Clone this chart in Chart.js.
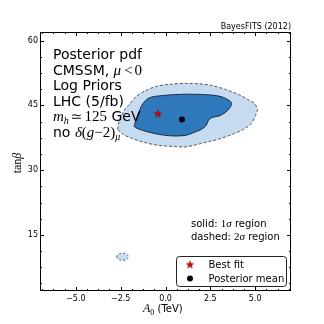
<!DOCTYPE html>
<html><head><meta charset="utf-8">
<script src="https://cdn.jsdelivr.net/npm/chart.js@4"></script>
<style>html,body{margin:0;padding:0;background:#fff}canvas{display:block}</style>
</head><body>
<canvas id="c" width="324" height="324"></canvas>
<script>
// ---- data ----
const outerX = [-2.67,-2.59,-2.31,-1.97,-1.69,-1.19,-0.52,0.21,1.10,1.88,2.55,3.34,4.12,4.68,4.96,5.13,5.02,4.79,4.34,3.84,3.11,2.44,1.77,1.10,0.49,-0.35,-1.19,-1.86,-2.36,-2.67];
const outerY = [39.43,41.29,43.84,45.46,46.86,48.25,49.41,49.87,50.10,49.99,49.64,48.71,47.44,46.16,45.46,44.07,42.68,40.82,39.43,38.50,37.34,36.65,35.95,35.37,35.49,35.72,36.42,37.34,38.27,39.43];
const innerX = [-1.75,-1.64,-1.47,-1.25,-0.91,-0.35,0.77,1.88,2.72,3.22,3.67,3.61,3.34,3.00,2.61,2.39,2.27,1.99,1.60,1.10,0.43,-0.35,-1.08,-1.58,-1.75];
const innerY = [40.13,41.75,43.61,45.46,46.74,47.20,47.55,47.55,47.32,46.86,45.70,44.54,43.38,42.56,42.22,41.52,40.36,39.43,38.74,38.04,37.92,38.27,38.97,39.66,40.13];
const blobX = [-2.73,-2.63,-2.42,-2.18,-2.07,-2.17,-2.40,-2.62,-2.73];
const blobY = [9.90,10.50,10.75,10.55,9.90,9.30,9.10,9.30,9.90];
const bestFit = [-0.42, 43.1];
const postMean = [0.92, 41.75];
const xTicks = [-5, -2.5, 0, 2.5, 5];
const xTickLabels = ['\u22125.0', '\u22122.5', '0.0', '2.5', '5.0'];
const yTicks = [15, 30, 45, 60];
const yTickLabels = ['15', '30', '45', '60'];
const xRange = [-7, 7];
const yRange = [2, 62];

const zip = (xs, ys) => xs.map((x, i) => ({x: x, y: ys[i]}));

// star marker image
const star = document.createElement('canvas');
star.width = 10; star.height = 10;
(function(){
  const g = star.getContext('2d');
  g.beginPath();
  for (let i = 0; i < 10; i++) {
    const r = i % 2 === 0 ? 3.9 : 1.6;
    const a = -Math.PI / 2 + i * Math.PI / 5;
    const px = 5 + r * Math.cos(a), py = 5.3 + r * Math.sin(a);
    if (i === 0) g.moveTo(px, py); else g.lineTo(px, py);
  }
  g.closePath();
  g.fillStyle = '#e00000'; g.fill();
  g.lineWidth = 0.5; g.strokeStyle = '#600'; g.stroke();
})();

const SANS = 'DejaVu Sans';
const SERIF = '"Liberation Serif", "DejaVu Serif"';

function drawRich(ctx, x, y, segs) {
  for (const s of segs) {
    ctx.font = s.f;
    ctx.fillText(s.t, x, y + (s.dy || 0));
    x += ctx.measureText(s.t).width + (s.sp || 0);
  }
  return x;
}
function richWidth(ctx, segs) {
  let w = 0;
  for (const s of segs) { ctx.font = s.f; w += ctx.measureText(s.t).width + (s.sp || 0); }
  return w;
}

const decor = {
  id: 'decor',
  afterDatasetsDraw(chart) {
    const ctx = chart.ctx, a = chart.chartArea;
    const xs = chart.scales.x, ys = chart.scales.y;
    ctx.save();
    ctx.strokeStyle = '#000';
    ctx.lineWidth = 1;
    const xStep = xTicks[1] - xTicks[0], yStep = yTicks[1] - yTicks[0];
    ctx.beginPath();
    for (let k = -20; k <= 20; k++) {
      for (let m = 0; m < 4; m++) {
        const v = xTicks[0] + k * xStep + m * xStep / 4;
        if (v <= xRange[0] || v >= xRange[1]) continue;
        const len = m === 0 ? 4 : 2;
        const px = Math.round(xs.getPixelForValue(v)) + 0.5;
        ctx.moveTo(px, a.bottom); ctx.lineTo(px, a.bottom - len);
        ctx.moveTo(px, a.top); ctx.lineTo(px, a.top + len);
      }
    }
    for (let k = -10; k <= 10; k++) {
      for (let m = 0; m < 4; m++) {
        const v = yTicks[0] + k * yStep + m * yStep / 4;
        if (v <= yRange[0] || v >= yRange[1]) continue;
        const len = m === 0 ? 4 : 2;
        const py = Math.round(ys.getPixelForValue(v)) + 0.5;
        ctx.moveTo(a.left, py); ctx.lineTo(a.left + len, py);
        ctx.moveTo(a.right, py); ctx.lineTo(a.right - len, py);
      }
    }
    ctx.stroke();
    ctx.strokeRect(a.left + 0.5, a.top + 0.5, a.right - a.left - 1, a.bottom - a.top - 1);
    ctx.restore();
  },
  afterDraw(chart) {
    const ctx = chart.ctx, a = chart.chartArea;
    ctx.save();
    ctx.fillStyle = '#000';
    ctx.textBaseline = 'alphabetic';
    ctx.font = '8px ' + SANS;
    ctx.textAlign = 'right';
    ctx.fillText('BayesFITS (2012)', a.right, 28.5);
    ctx.textAlign = 'left';
    const big = '14px ' + SANS, mi = 'italic 15px ' + SERIF, mr = '15px ' + SERIF;
    const sub = 'italic 10px ' + SERIF;
    const L = 53;
    drawRich(ctx, L, 59, [{t: 'Posterior pdf', f: big}]);
    drawRich(ctx, L, 74.5, [{t: 'CMSSM, ', f: big}, {t: '\u03bc', f: mi, sp: 3}, {t: '<', f: mr, sp: 2}, {t: '0', f: mr}]);
    drawRich(ctx, L, 90, [{t: 'Log Priors', f: big}]);
    drawRich(ctx, L, 105.5, [{t: 'LHC (5/fb)', f: big}]);
    drawRich(ctx, L, 121, [{t: 'm', f: mi}, {t: 'h', f: sub, dy: 3, sp: 2}, {t: '\u2243', f: '14px "DejaVu Serif"', sp: 2}, {t: '125', f: mr}, {t: ' GeV', f: big}]);
    drawRich(ctx, L, 136.5, [{t: 'no ', f: big}, {t: '\u03b4', f: mi}, {t: '(', f: mr}, {t: 'g', f: mi}, {t: '\u2212', f: mr}, {t: '2', f: mr}, {t: ')', f: mr}, {t: '\u03bc', f: sub, dy: 3}]);
    const s10 = '10px ' + SANS, r11 = '11px ' + SERIF, i11 = 'italic 11px ' + SERIF;
    drawRich(ctx, 191, 227, [{t: 'solid: ', f: s10}, {t: '1', f: r11}, {t: '\u03c3', f: i11}, {t: ' region', f: s10}]);
    drawRich(ctx, 191, 240, [{t: 'dashed: ', f: s10}, {t: '2', f: r11}, {t: '\u03c3', f: i11}, {t: ' region', f: s10}]);
    const bx = 176.5, by = 256.5, bw = 110, bh = 30, rr = 3;
    ctx.beginPath();
    ctx.moveTo(bx + rr, by); ctx.lineTo(bx + bw - rr, by); ctx.arcTo(bx + bw, by, bx + bw, by + rr, rr);
    ctx.lineTo(bx + bw, by + bh - rr); ctx.arcTo(bx + bw, by + bh, bx + bw - rr, by + bh, rr);
    ctx.lineTo(bx + rr, by + bh); ctx.arcTo(bx, by + bh, bx, by + bh - rr, rr);
    ctx.lineTo(bx, by + rr); ctx.arcTo(bx, by, bx + rr, by, rr); ctx.closePath();
    ctx.fillStyle = '#fff'; ctx.fill();
    ctx.strokeStyle = '#222'; ctx.lineWidth = 1; ctx.stroke();
    ctx.drawImage(star, 190 - 5, 264.5 - 5);
    ctx.beginPath(); ctx.arc(190, 278.5, 3, 0, Math.PI * 2); ctx.fillStyle = '#000'; ctx.fill();
    ctx.font = s10; ctx.fillStyle = '#000';
    ctx.fillText('Best fit', 208.5, 268);
    ctx.fillText('Posterior mean', 208.5, 282);
    drawRich(ctx, 143, 312, [{t: 'A', f: 'italic 12px ' + SERIF}, {t: '0', f: '8px ' + SERIF, dy: 2.5}, {t: ' (TeV)', f: s10}]);
    const ysegs = [{t: 'tan', f: '12px ' + SERIF}, {t: '\u03b2', f: 'italic 12px ' + SERIF}];
    const yw = richWidth(ctx, ysegs);
    ctx.translate(21, 163);
    ctx.rotate(-Math.PI / 2);
    drawRich(ctx, -yw / 2, 0, ysegs);
    ctx.restore();
  }
};

new Chart(document.getElementById('c'), {
  type: 'scatter',
  data: {
    datasets: [
      {label: '2sigma', data: zip(outerX, outerY), showLine: true, fill: 'shape', backgroundColor: '#c6dbef',
       borderColor: '#555', borderWidth: 1, borderDash: [3, 2], pointRadius: 0, tension: 0.3, order: 4},
      {label: '2sigma-b', data: zip(blobX, blobY), showLine: true, fill: 'shape', backgroundColor: '#c6dbef',
       borderColor: '#666', borderWidth: 1, borderDash: [2, 2], pointRadius: 0, tension: 0.4, order: 4},
      {label: '1sigma', data: zip(innerX, innerY), showLine: true, fill: 'shape', backgroundColor: '#2f78bb',
       borderColor: '#1b2b48', borderWidth: 1, pointRadius: 0, tension: 0.3, order: 3},
      {label: 'Best fit', data: [{x: bestFit[0], y: bestFit[1]}], pointStyle: star, pointRadius: 4, order: 1},
      {label: 'Posterior mean', data: [{x: postMean[0], y: postMean[1]}], pointRadius: 3,
       backgroundColor: '#000', borderColor: '#000', borderWidth: 0, order: 2}
    ]
  },
  options: {
    responsive: false,
    animation: false,
    devicePixelRatio: 1,
    layout: {padding: {top: 32, right: 33, left: 0, bottom: 0}},
    plugins: {legend: {display: false}, tooltip: {enabled: false}},
    scales: {
      x: {
        type: 'linear', min: xRange[0], max: xRange[1],
        grid: {display: false, drawTicks: false}, border: {display: false},
        afterBuildTicks: s => { s.ticks = xTicks.map(v => ({value: v})); },
        afterFit: s => { s.height = 33; },
        ticks: {autoSkip: false, maxRotation: 0, padding: 3, color: '#000', font: {family: SANS, size: 8},
                callback: (v, i) => xTickLabels[i]}
      },
      y: {
        type: 'linear', min: yRange[0], max: yRange[1],
        grid: {display: false, drawTicks: false}, border: {display: false},
        afterBuildTicks: s => { s.ticks = yTicks.map(v => ({value: v})); },
        afterFit: s => { s.width = 40; },
        ticks: {autoSkip: false, padding: 2, color: '#000', font: {family: SANS, size: 8},
                callback: (v, i) => yTickLabels[i]}
      }
    }
  },
  plugins: [decor]
});
</script>
</body></html>
